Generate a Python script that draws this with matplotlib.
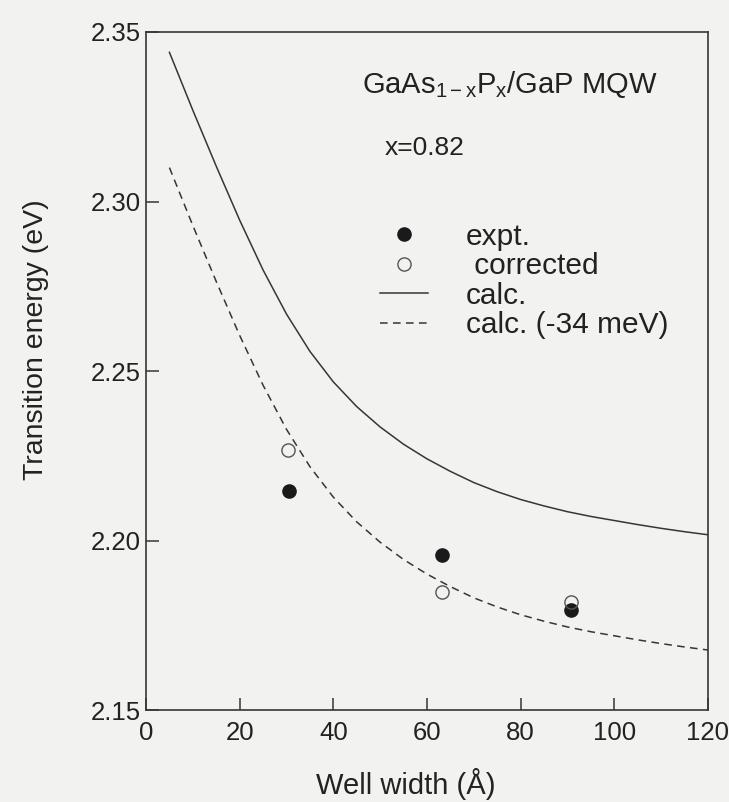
import matplotlib
matplotlib.use("Agg")
import matplotlib.pyplot as plt
import numpy as np

plt.rcParams['font.family'] = ['Liberation Sans', 'DejaVu Sans']
plt.rcParams['mathtext.fontset'] = 'custom'
plt.rcParams['mathtext.rm'] = 'Liberation Sans'
plt.rcParams['mathtext.it'] = 'Liberation Sans'

# Calculated transition energy vs. well width (Å, eV)
calc_width = [5, 10, 15, 20, 25, 30, 35, 40, 45, 50, 55, 60, 65, 70, 75,
              80, 85, 90, 95, 100, 105, 110, 115, 120]
calc_energy = [2.3440, 2.3269, 2.3104, 2.2945, 2.2798, 2.2668, 2.2558,
               2.2468, 2.2395, 2.2335, 2.2284, 2.2241, 2.2204, 2.2171,
               2.2144, 2.2121, 2.2102, 2.2085, 2.2071, 2.2059, 2.2047,
               2.2036, 2.2026, 2.2017]
calc_shift = 0.034  # eV

# Measured points
expt_width = [30.6, 63.2, 90.8]
expt_energy = [2.2147, 2.1956, 2.1796]
corr_width = [30.4, 63.2, 90.8]
corr_energy = [2.2268, 2.1849, 2.1819]

paper = '#f2f2f0'
ink = '#363636'
text_c = '#222222'

fig = plt.figure(figsize=(7.29, 8.02), dpi=100, facecolor=paper)
ax = fig.add_axes([0.2003, 0.1147, 0.7707, 0.8454], facecolor=paper)

w = np.array(calc_width)
e = np.array(calc_energy)
ax.plot(expt_width, expt_energy, 'o', color='#1a1a1a', markersize=9.5,
        label='expt.', zorder=3)
ax.plot(corr_width, corr_energy, 'o', markerfacecolor='none',
        markeredgecolor='#555555', markeredgewidth=1.0, markersize=9.5,
        label=' corrected', zorder=3)
ax.plot(w, e, '-', color=ink, linewidth=1.1, label='calc.')
ax.plot(w, e - calc_shift, '--', color=ink, linewidth=1.1,
        dashes=(5, 3.5), label='calc. (-34 meV)')

ax.set_xlim(0, 120)
ax.set_ylim(2.15, 2.35)
ax.set_xticks([0, 20, 40, 60, 80, 100, 120])
ax.set_yticks([2.15, 2.20, 2.25, 2.30, 2.35])
ax.set_yticklabels(['2.15', '2.20', '2.25', '2.30', '2.35'])
ax.tick_params(direction='in', length=9, width=1.1, color=ink,
               labelsize=18.5, labelcolor=text_c, top=False, right=False)
ax.tick_params(axis='x', pad=8)
ax.tick_params(axis='y', pad=4)
for s in ax.spines.values():
    s.set_color(ink)
    s.set_linewidth(1.2)

ax.set_xlabel('Well width (Å)', fontsize=21, color=text_c)
ax.set_ylabel('Transition energy (eV)', fontsize=20.5, color=text_c)
ax.xaxis.set_label_coords(0.463, -0.086)
ax.yaxis.set_label_coords(-0.172, 0.546)

ax.text(0.384, 0.922, r'GaAs$_{\mathregular{1-x}}$P$_{\mathregular{x}}$/GaP MQW',
        transform=ax.transAxes, fontsize=21, color=text_c, va='center')
ax.text(0.425, 0.829, 'x=0.82', transform=ax.transAxes, fontsize=19,
        color=text_c, va='center')

leg = ax.legend(loc='upper left', bbox_to_anchor=(0.4164, 0.719), frameon=False,
                fontsize=21.5, handlelength=1.6, handletextpad=1.27,
                labelspacing=0.05, borderpad=0, borderaxespad=0)
for t in leg.get_texts():
    t.set_color(text_c)

fig.savefig('out.png', dpi=100, facecolor=paper)
